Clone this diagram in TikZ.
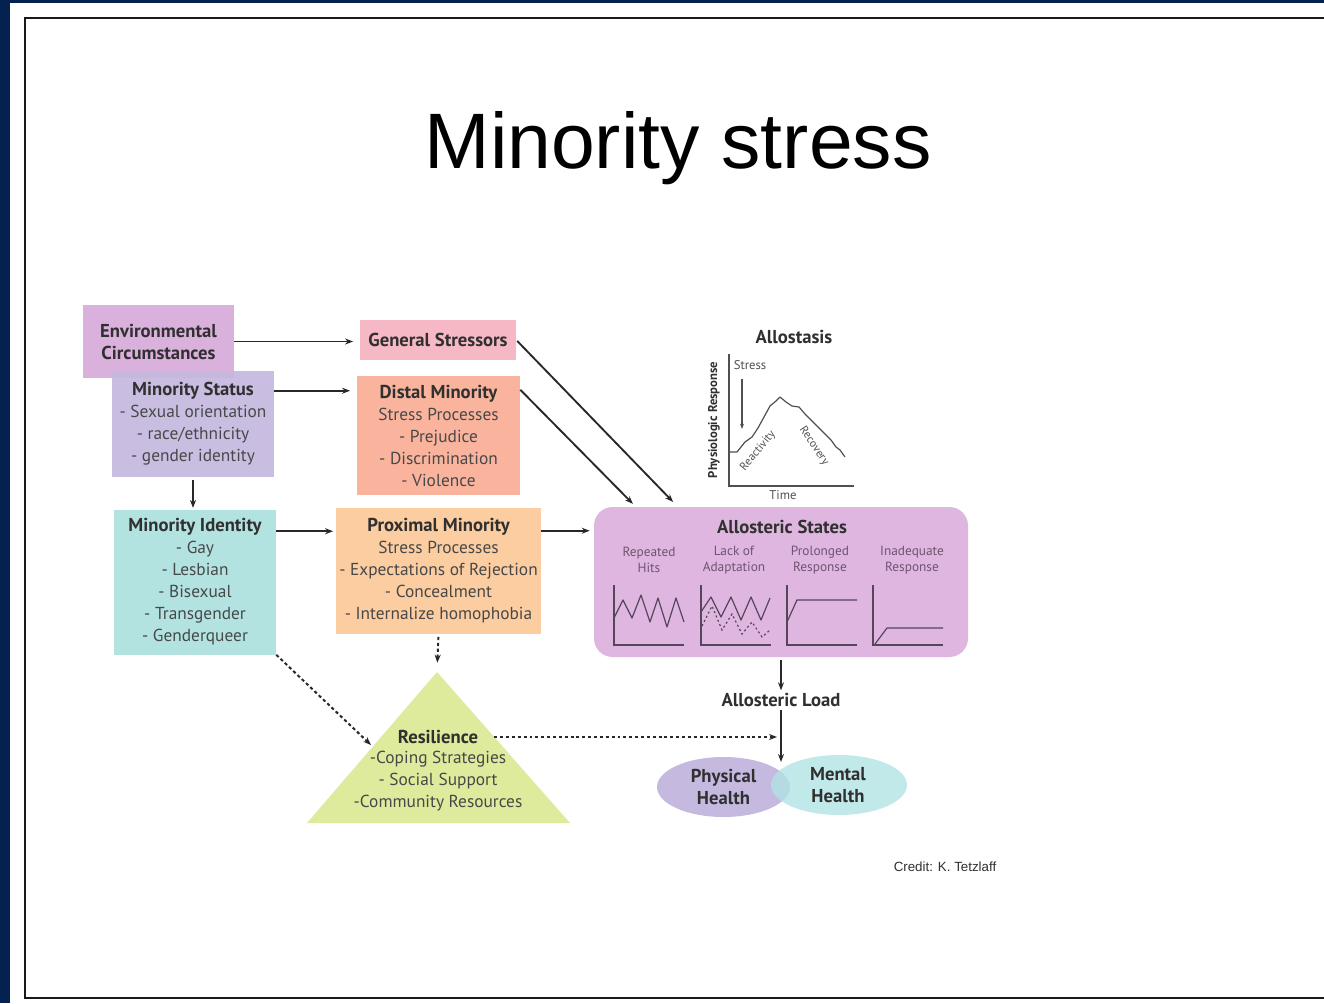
\documentclass[tikz,border=0pt]{standalone}
\usepackage{fontspec}
\setmainfont{PT Sans}
\newfontfamily\arialfont{Liberation Sans}
\usetikzlibrary{arrows.meta,calc,shapes.geometric}

\definecolor{navy}{RGB}{4,33,80}
\definecolor{framec}{RGB}{25,25,25}
\definecolor{headc}{RGB}{48,48,48}
\definecolor{itemc}{RGB}{72,72,72}
\definecolor{linec}{RGB}{40,40,40}
\definecolor{envc}{RGB}{218,177,220}
\definecolor{statusc}{RGB}{196,184,222}
\definecolor{identc}{RGB}{178,227,225}
\definecolor{generalc}{RGB}{247,184,197}
\definecolor{distalc}{RGB}{250,180,157}
\definecolor{proxc}{RGB}{251,205,160}
\definecolor{statesc}{RGB}{222,182,223}
\definecolor{resilc}{RGB}{222,235,157}
\definecolor{physc}{RGB}{198,185,224}
\definecolor{mentc}{RGB}{178,228,228}
\definecolor{graphc}{RGB}{85,70,90}
\definecolor{labc}{RGB}{112,84,112}
\definecolor{allc}{RGB}{80,80,80}

% bold heading inside a box
\newcommand\hd[1]{{\fontsize{14}{16.5}\selectfont\bfseries\color{headc}#1}}

\begin{document}
\begin{tikzpicture}[x=0.75pt,y=-0.75pt,
  box/.style={rectangle, inner sep=0pt, align=center, text=itemc,
    font=\fontsize{13}{16.5}\selectfont},
  arr/.style={draw=linec, line width=1.4pt, -{Stealth[length=6pt,width=4.5pt]}},
  dotarr/.style={arr, dash pattern=on 2.4pt off 2pt},
  thin/.style={draw=graphc, line width=0.9pt},
  lab/.style={align=center, text=labc, font=\fontsize{10}{12}\selectfont, inner sep=0pt},
  bighd/.style={font=\bfseries\fontsize{14}{16}\selectfont, text=headc, inner sep=0pt}
]
\useasboundingbox (0,0) rectangle (1324,1003);

% slide background and frame
\fill[white] (0,0) rectangle (1324,1003);
\fill[navy] (0,0) rectangle (10,1003);
\fill[navy] (0,0) rectangle (1324,3);
\draw[framec, line width=1.6pt] (1324,18) -- (25,18) -- (25,998) -- (1324,998);

% title
\node[anchor=base, font=\arialfont\fontsize{59}{70}\selectfont] (title) at (678,168) {Minority stress};

% left-hand boxes
\node[box, fill=envc, minimum width={151*0.75pt}, minimum height={73*0.75pt}] (env) at (158.5,341.5)
  {\hd{Environmental}\\\hd{Circumstances}};
\node[box, fill=statusc, fill opacity=0.9, text opacity=1, minimum width={162*0.75pt}, minimum height={106*0.75pt}] (status) at (193,424)
  {\hd{Minority Status}\\- Sexual orientation\\- race/ethnicity\\- gender identity};
\node[box, fill=identc, minimum width={162*0.75pt}, minimum height={145*0.75pt}] (ident) at (195,582)
  {\hd{Minority Identity}\\- Gay\\- Lesbian\\- Bisexual\\- Transgender\\- Genderqueer};

% stress process boxes
\node[box, fill=generalc, minimum width={156*0.75pt}, minimum height={40*0.75pt}] (general) at (438,340)
  {\hd{General Stressors}};
\node[box, fill=distalc, minimum width={163*0.75pt}, minimum height={119*0.75pt}] (distal) at (438.5,435.5)
  {\hd{Distal Minority}\\Stress Processes\\- Prejudice\\- Discrimination\\- Violence};
\node[box, fill=proxc, minimum width={205*0.75pt}, minimum height={126*0.75pt}] (prox) at (438.5,571)
  {\hd{Proximal Minority}\\Stress Processes\\- Expectations of Rejection\\- Concealment\\- Internalize homophobia};

% resilience triangle
\fill[resilc] (437,672) -- (570,823) -- (307,823) -- cycle;
\coordinate (apex) at (437,672);
\coordinate (resedge) at (371,745);
\node[box] (resT) at (438,737) {\hd{Resilience}};
\node[box] (resL) at (438,781) {-Coping Strategies\\- Social Support\\-Community Resources};

% allostasis graph
\node[bighd] (allo) at (794,337) {Allostasis};
\draw[thin, draw=allc] (729,354) -- (729,486) -- (854,486);
\node[rotate=90, font=\bfseries\fontsize{9.5}{11}\selectfont, text=headc, inner sep=0pt] (resp) at (714,420) {Physiologic Response};
\node[font=\fontsize{9.5}{11}\selectfont, text=allc, inner sep=0pt] (time) at (783,495) {Time};
\node[font=\fontsize{9.5}{11}\selectfont, text=allc, inner sep=0pt] (stress) at (750,365) {Stress};
\draw[draw=allc, line width=0.8pt, -{Stealth[length=4pt,width=3pt]}] (742,379) -- (742,429);
\draw[draw=allc, line width=0.9pt, line join=round]
  (729,452) -- (737,452) -- (745,442) -- (752,437) -- (758,428) -- (764,417) -- (770,406)
  -- (776,401) -- (780,397) -- (786,402) -- (792,406) -- (799,407) -- (805,414) -- (812,421)
  -- (818,427) -- (825,434) -- (831,440) -- (836,447) -- (840,450) -- (845,457);
\node[rotate=50, font=\fontsize{8.6}{10}\selectfont, text=allc, inner sep=0pt] (react) at (758,451) {Reactivity};
\node[rotate=-56, font=\fontsize{8.6}{10}\selectfont, text=allc, inner sep=0pt] (recov) at (814,446) {Recovery};

% allosteric states panel
\node[rounded corners=14pt, fill=statesc, inner sep=0pt, minimum width={374*0.75pt}, minimum height={150*0.75pt}] (states) at (781,582) {};
\node[bighd] (statesT) at (782,527) {Allosteric States};
\node[lab] (l1) at (649,560) {Repeated\\Hits};
\node[lab] (l2) at (734,560) {Lack of\\Adaptation};
\node[lab] (l3) at (820,560) {Prolonged\\Response};
\node[lab] (l4) at (912,560) {Inadequate\\Response};
\foreach \x in {614,701,787,873} {
  \draw[thin] (\x,585) -- (\x,645) -- (\x+70,645);
}
\draw[thin, line join=round] (614,618) -- (623,600) -- (632,618) -- (641,595) -- (650,622) -- (658,598) -- (667,627) -- (676,598) -- (684,622);
\draw[thin, line join=round] (701,612) -- (711,597) -- (721,617) -- (731,597) -- (741,620) -- (751,597) -- (761,620) -- (770,598);
\draw[thin, dash pattern=on 1.5pt off 2pt] (702,626) -- (712,606) -- (722,630) -- (732,614) -- (742,634) -- (752,622) -- (762,637) -- (770,630);
\draw[thin] (787,622) -- (797,600) -- (857,600);
\draw[thin] (875,644) -- (887,628) -- (943,628);

% allosteric load and outcomes
\node[bighd, inner sep=2pt] (load) at (781,700) {Allosteric Load};
\node[ellipse, fill=physc, inner sep=0pt, minimum width={133*0.75pt}, minimum height={60*0.75pt}] (phys) at (723.5,787) {};
\node[ellipse, fill=mentc, fill opacity=0.78, inner sep=0pt, minimum width={136*0.75pt}, minimum height={60*0.75pt}] (ment) at (839,785) {};
\node[box] (physT) at (723.5,786.5) {\hd{Physical}\\\hd{Health}};
\node[box] (mentT) at (838,785.5) {\hd{Mental}\\\hd{Health}};
\coordinate (join) at (781,762);

% credit line
\node[anchor=base, font=\arialfont\fontsize{10}{12}\selectfont, text=headc] (credit) at (945,871) {Credit: K. Tetzlaff};

% connectors
\draw[arr, shorten >=5pt] (env.east) -- (env.east -| general.west);
\coordinate (s1) at ($(status.north east)+(0,20)$);
\draw[arr, shorten >=5pt] (s1) -- (s1 -| distal.west);
\draw[arr, shorten <=2pt, shorten >=1pt] (status.south) -- (status.south |- ident.north);
\coordinate (i1) at ($(ident.north east)+(0,22)$);
\draw[arr, shorten >=2pt] (i1) -- (i1 -| prox.west);
\coordinate (p1) at ($(prox.north east)+(0,23)$);
\draw[arr, shorten >=3pt] (p1) -- (p1 -| states.west);
\draw[arr, shorten <=1pt, shorten >=5pt] (general.east) -- ($(states.north west)+(84,0)$);
\draw[arr, shorten >=3pt] ($(distal.north east)+(0,14)$) -- ($(states.north west)+(42,0)$);
\draw[dotarr, shorten <=2pt, shorten >=7pt] (prox.south) -- (apex);
\draw[dotarr, line width=1.5pt] (ident.south east) -- (resedge);
\draw[arr, dash pattern=on 2.2pt off 2.2pt, line width=1.1pt, shorten <=12pt, shorten >=3pt] (resT.east) -- (resT.east -| join);
\draw[arr, shorten <=2pt] (states.south) -- (load.north);
\draw[arr] (load.south) -- (join);
\end{tikzpicture}
\end{document}
